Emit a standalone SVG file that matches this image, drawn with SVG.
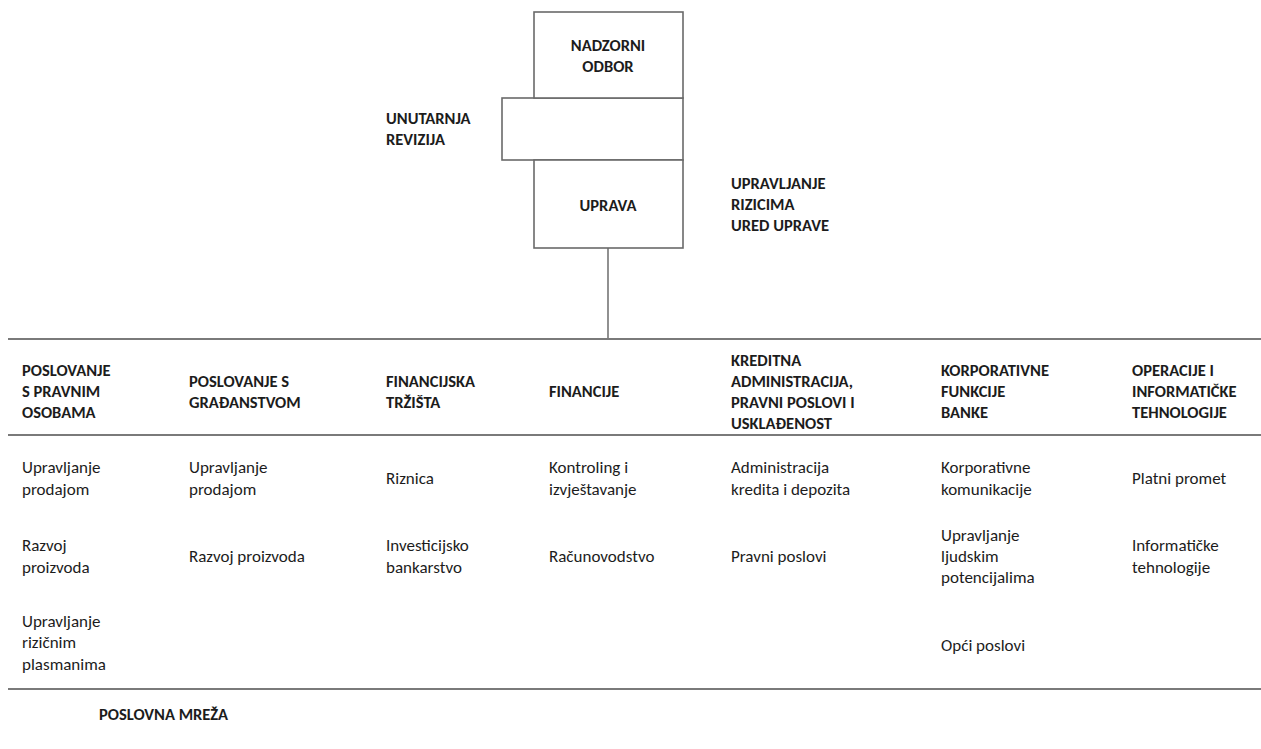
<svg xmlns="http://www.w3.org/2000/svg" width="1261" height="749" viewBox="0 0 1261 749">
<style>
text{font-family:"Carlito","Lato","Liberation Sans",sans-serif;fill:#1c1c1c}
.h{font-weight:bold;font-size:16.5px}
.b{font-size:17px}
.box{fill:#fff;stroke:#6a6a6a;stroke-width:1.6}
.ln{stroke:#7a7a7a;stroke-width:2;fill:none}
.cn{stroke:#555;stroke-width:1.3;fill:none}
</style>
<rect width="1261" height="749" fill="#fff"/>
<g id="connectors">
<line class="cn" x1="608" y1="248" x2="608" y2="339"/>
<line class="ln" x1="8" y1="339" x2="1261" y2="339"/>
<line class="ln" x1="8" y1="435" x2="1261" y2="435"/>
<line class="ln" x1="8" y1="689" x2="1261" y2="689"/>
</g>
<g id="unutarnja-revizija">
<rect class="box" x="502" y="98" width="181" height="62"/>
<text class="h" x="386" y="124">UNUTARNJA</text>
<text class="h" x="386" y="145">REVIZIJA</text>
</g>
<g id="nadzorni-odbor">
<rect class="box" x="534" y="12" width="149" height="86"/>
<text class="h" x="608" y="51" text-anchor="middle">NADZORNI</text>
<text class="h" x="608" y="72" text-anchor="middle">ODBOR</text>
</g>
<g id="uprava">
<rect class="box" x="534" y="160" width="149" height="88"/>
<text class="h" x="608" y="211" text-anchor="middle">UPRAVA</text>
</g>
<g id="upravljanje-rizicima">
<text class="h" x="731" y="189">UPRAVLJANJE</text>
<text class="h" x="731" y="210">RIZICIMA</text>
<text class="h" x="731" y="231">URED UPRAVE</text>
</g>
<g id="col1">
<text class="h" x="22" y="376">POSLOVANJE</text>
<text class="h" x="22" y="397">S PRAVNIM</text>
<text class="h" x="22" y="418">OSOBAMA</text>
<text class="b" x="22" y="473">Upravljanje</text>
<text class="b" x="22" y="495">prodajom</text>
<text class="b" x="22" y="551">Razvoj</text>
<text class="b" x="22" y="573">proizvoda</text>
<text class="b" x="22" y="627">Upravljanje</text>
<text class="b" x="22" y="648">rizičnim</text>
<text class="b" x="22" y="670">plasmanima</text>
</g>
<g id="col2">
<text class="h" x="189" y="386.5">POSLOVANJE S</text>
<text class="h" x="189" y="407.5">GRAĐANSTVOM</text>
<text class="b" x="189" y="473">Upravljanje</text>
<text class="b" x="189" y="495">prodajom</text>
<text class="b" x="189" y="562">Razvoj proizvoda</text>
</g>
<g id="col3">
<text class="h" x="386" y="386.5">FINANCIJSKA</text>
<text class="h" x="386" y="407.5">TRŽIŠTA</text>
<text class="b" x="386" y="484">Riznica</text>
<text class="b" x="386" y="551">Investicijsko</text>
<text class="b" x="386" y="573">bankarstvo</text>
</g>
<g id="col4">
<text class="h" x="549" y="397">FINANCIJE</text>
<text class="b" x="549" y="473">Kontroling i</text>
<text class="b" x="549" y="495">izvještavanje</text>
<text class="b" x="549" y="562">Računovodstvo</text>
</g>
<g id="col5">
<text class="h" x="731" y="365.5">KREDITNA</text>
<text class="h" x="731" y="386.5">ADMINISTRACIJA,</text>
<text class="h" x="731" y="407.5">PRAVNI POSLOVI I</text>
<text class="h" x="731" y="428.5">USKLAĐENOST</text>
<text class="b" x="731" y="473">Administracija</text>
<text class="b" x="731" y="495">kredita i depozita</text>
<text class="b" x="731" y="562">Pravni poslovi</text>
</g>
<g id="col6">
<text class="h" x="941" y="376">KORPORATIVNE</text>
<text class="h" x="941" y="397">FUNKCIJE</text>
<text class="h" x="941" y="418">BANKE</text>
<text class="b" x="941" y="473">Korporativne</text>
<text class="b" x="941" y="495">komunikacije</text>
<text class="b" x="941" y="541">Upravljanje</text>
<text class="b" x="941" y="562">ljudskim</text>
<text class="b" x="941" y="583">potencijalima</text>
<text class="b" x="941" y="651">Opći poslovi</text>
</g>
<g id="col7">
<text class="h" x="1132" y="376">OPERACIJE I</text>
<text class="h" x="1132" y="397">INFORMATIČKE</text>
<text class="h" x="1132" y="418">TEHNOLOGIJE</text>
<text class="b" x="1132" y="484">Platni promet</text>
<text class="b" x="1132" y="551">Informatičke</text>
<text class="b" x="1132" y="573">tehnologije</text>
</g>
<g id="poslovna-mreza">
<text class="h" x="99" y="720">POSLOVNA MREŽA</text>
</g>
</svg>
